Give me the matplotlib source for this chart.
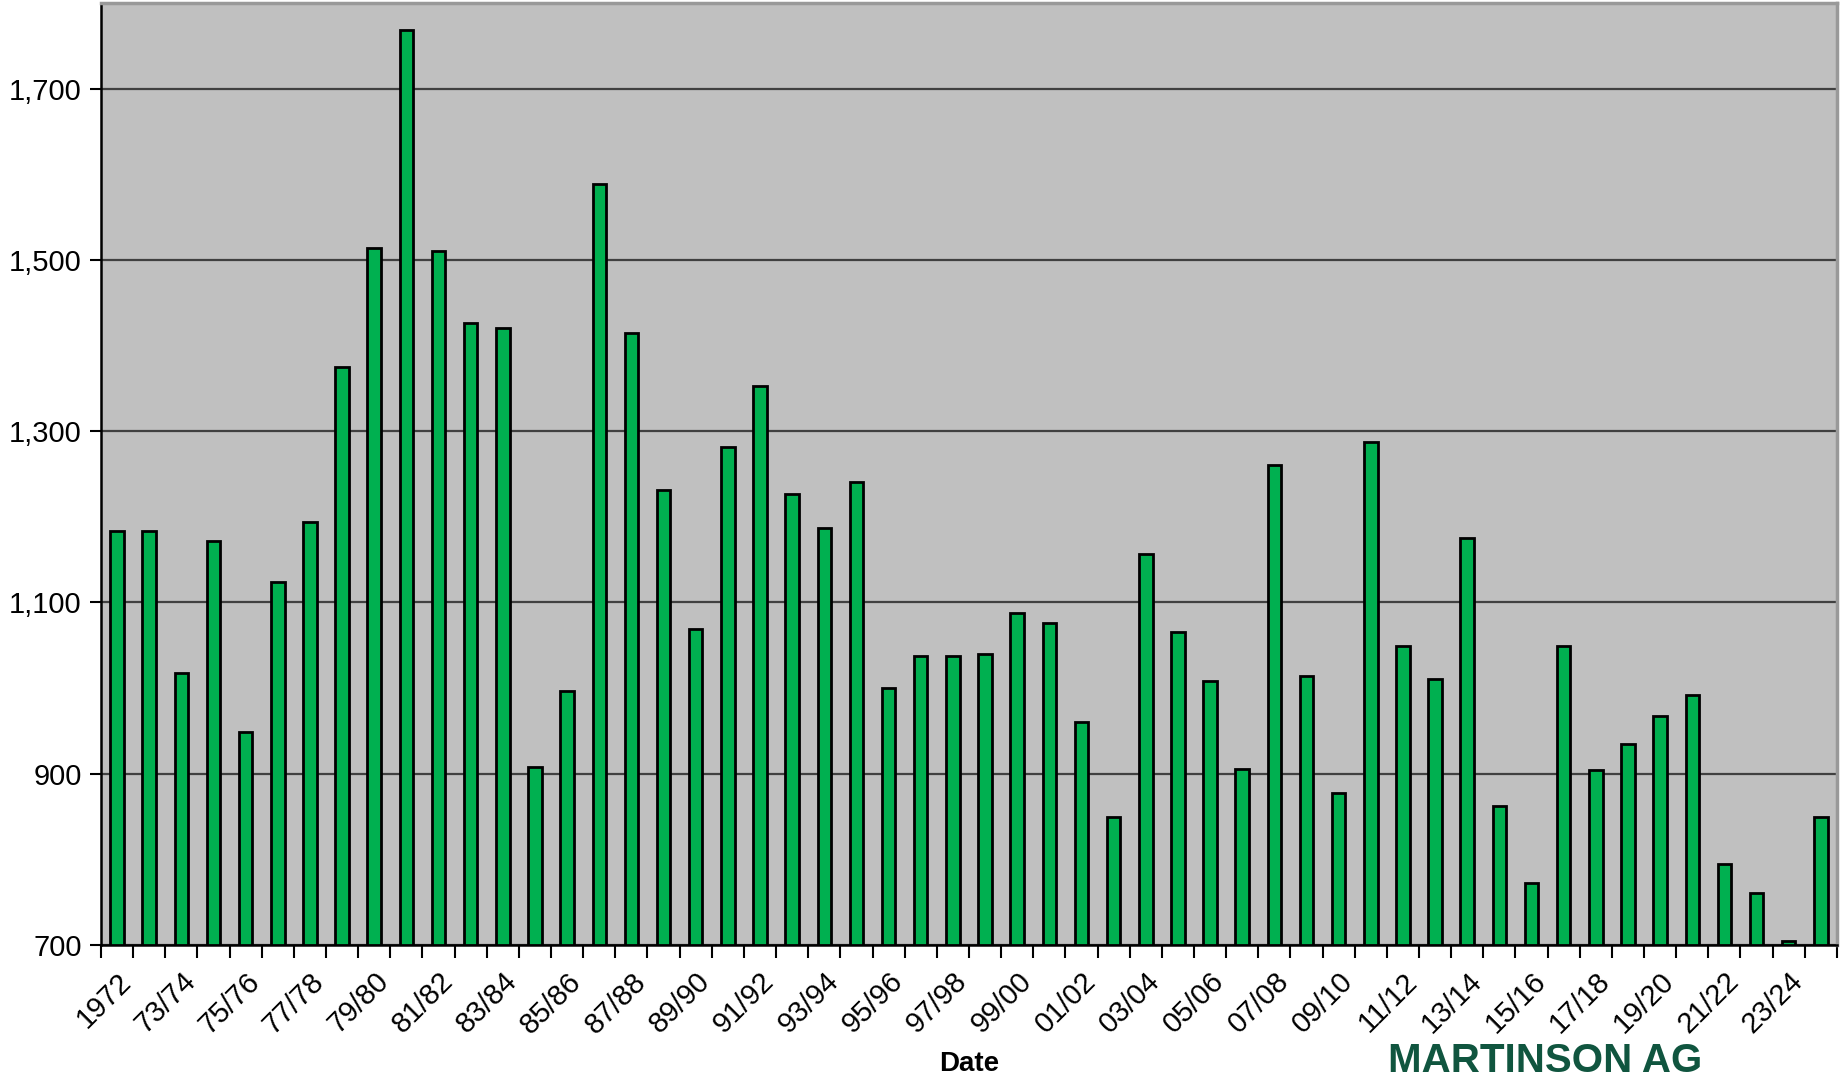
"""Annual bar chart, 1972 to 24/25, with Martinson Ag wordmark."""
import matplotlib
matplotlib.use("Agg")
import matplotlib.pyplot as plt
import numpy as np

# ── Data ──────────────────────────────────────────────────────────────────
SEASONS = ["1972"] + [f"{y % 100:02d}/{(y + 1) % 100:02d}" for y in range(1972, 2025)]
VALUES = [
    1184, 1184, 1018, 1172, 949, 1124, 1194, 1375, 1514, 1768,
    1510, 1426, 1421, 908, 997, 1589, 1415, 1231, 1069, 1282,
    1353, 1227, 1187, 1241, 1000, 1038, 1038, 1040, 1088, 1076,
    960, 849, 1157, 1065, 1008, 906, 1261, 1014, 877, 1287,
    1049, 1011, 1175, 862, 773, 1049, 904, 935, 968, 992,
    795, 761, 705, 849,
]
Y_TICKS = [700, 900, 1100, 1300, 1500, 1700]

BAR_GREEN = "#00b050"
PLOT_BG = "#c0c0c0"
GRID_COL = "#404040"
LOGO_GREEN = "#10553f"

plt.rcParams["font.family"] = ["Liberation Sans", "DejaVu Sans"]

fig = plt.figure(figsize=(18.43, 10.84), dpi=100)
ax = fig.add_axes([0.0548, 0.1282, 0.9419, 0.869])
ax.set_facecolor(PLOT_BG)

x = np.arange(len(VALUES))
ax.bar(x, np.array(VALUES) - 700, bottom=700, width=0.42,
       color=BAR_GREEN, edgecolor="black", linewidth=2.0, zorder=3)

ax.set_xlim(-0.5, len(VALUES) - 0.5)
ax.set_ylim(700, 1800)
ax.set_yticks(Y_TICKS)
ax.set_yticklabels([f"{v:,}" for v in Y_TICKS], fontsize=21)
ax.grid(axis="y", color=GRID_COL, linewidth=1.6, zorder=1)

# category boundary ticks, labels on every other bar
ax.set_xticks(np.arange(len(VALUES) + 1) - 0.5, minor=False)
ax.set_xticklabels([])
ax.set_xticks(x[::2], minor=True)
ax.set_xticklabels(SEASONS[::2], minor=True, rotation=45, ha="right",
                   rotation_mode="anchor", fontsize=21)
ax.tick_params(axis="x", which="major", length=9, width=1.5, color="black")
ax.tick_params(axis="x", which="minor", length=0, pad=16)
ax.tick_params(axis="y", length=8, width=1.5, pad=6)

for side in ("left", "bottom"):
    ax.spines[side].set_color("black")
    ax.spines[side].set_linewidth(1.8)
for side in ("top", "right"):
    ax.spines[side].set_color("#999999")
    ax.spines[side].set_linewidth(2.5)

fig.text(0.5258, 0.006, "Date", ha="center", va="bottom",
         fontsize=20, fontweight="bold")

# wordmark (bottom right)
fig.text(0.753, 0.004, "MARTINSON AG", ha="left", va="bottom",
         fontsize=29, fontweight="bold", color=LOGO_GREEN)

fig.savefig("out.png", dpi=100)
